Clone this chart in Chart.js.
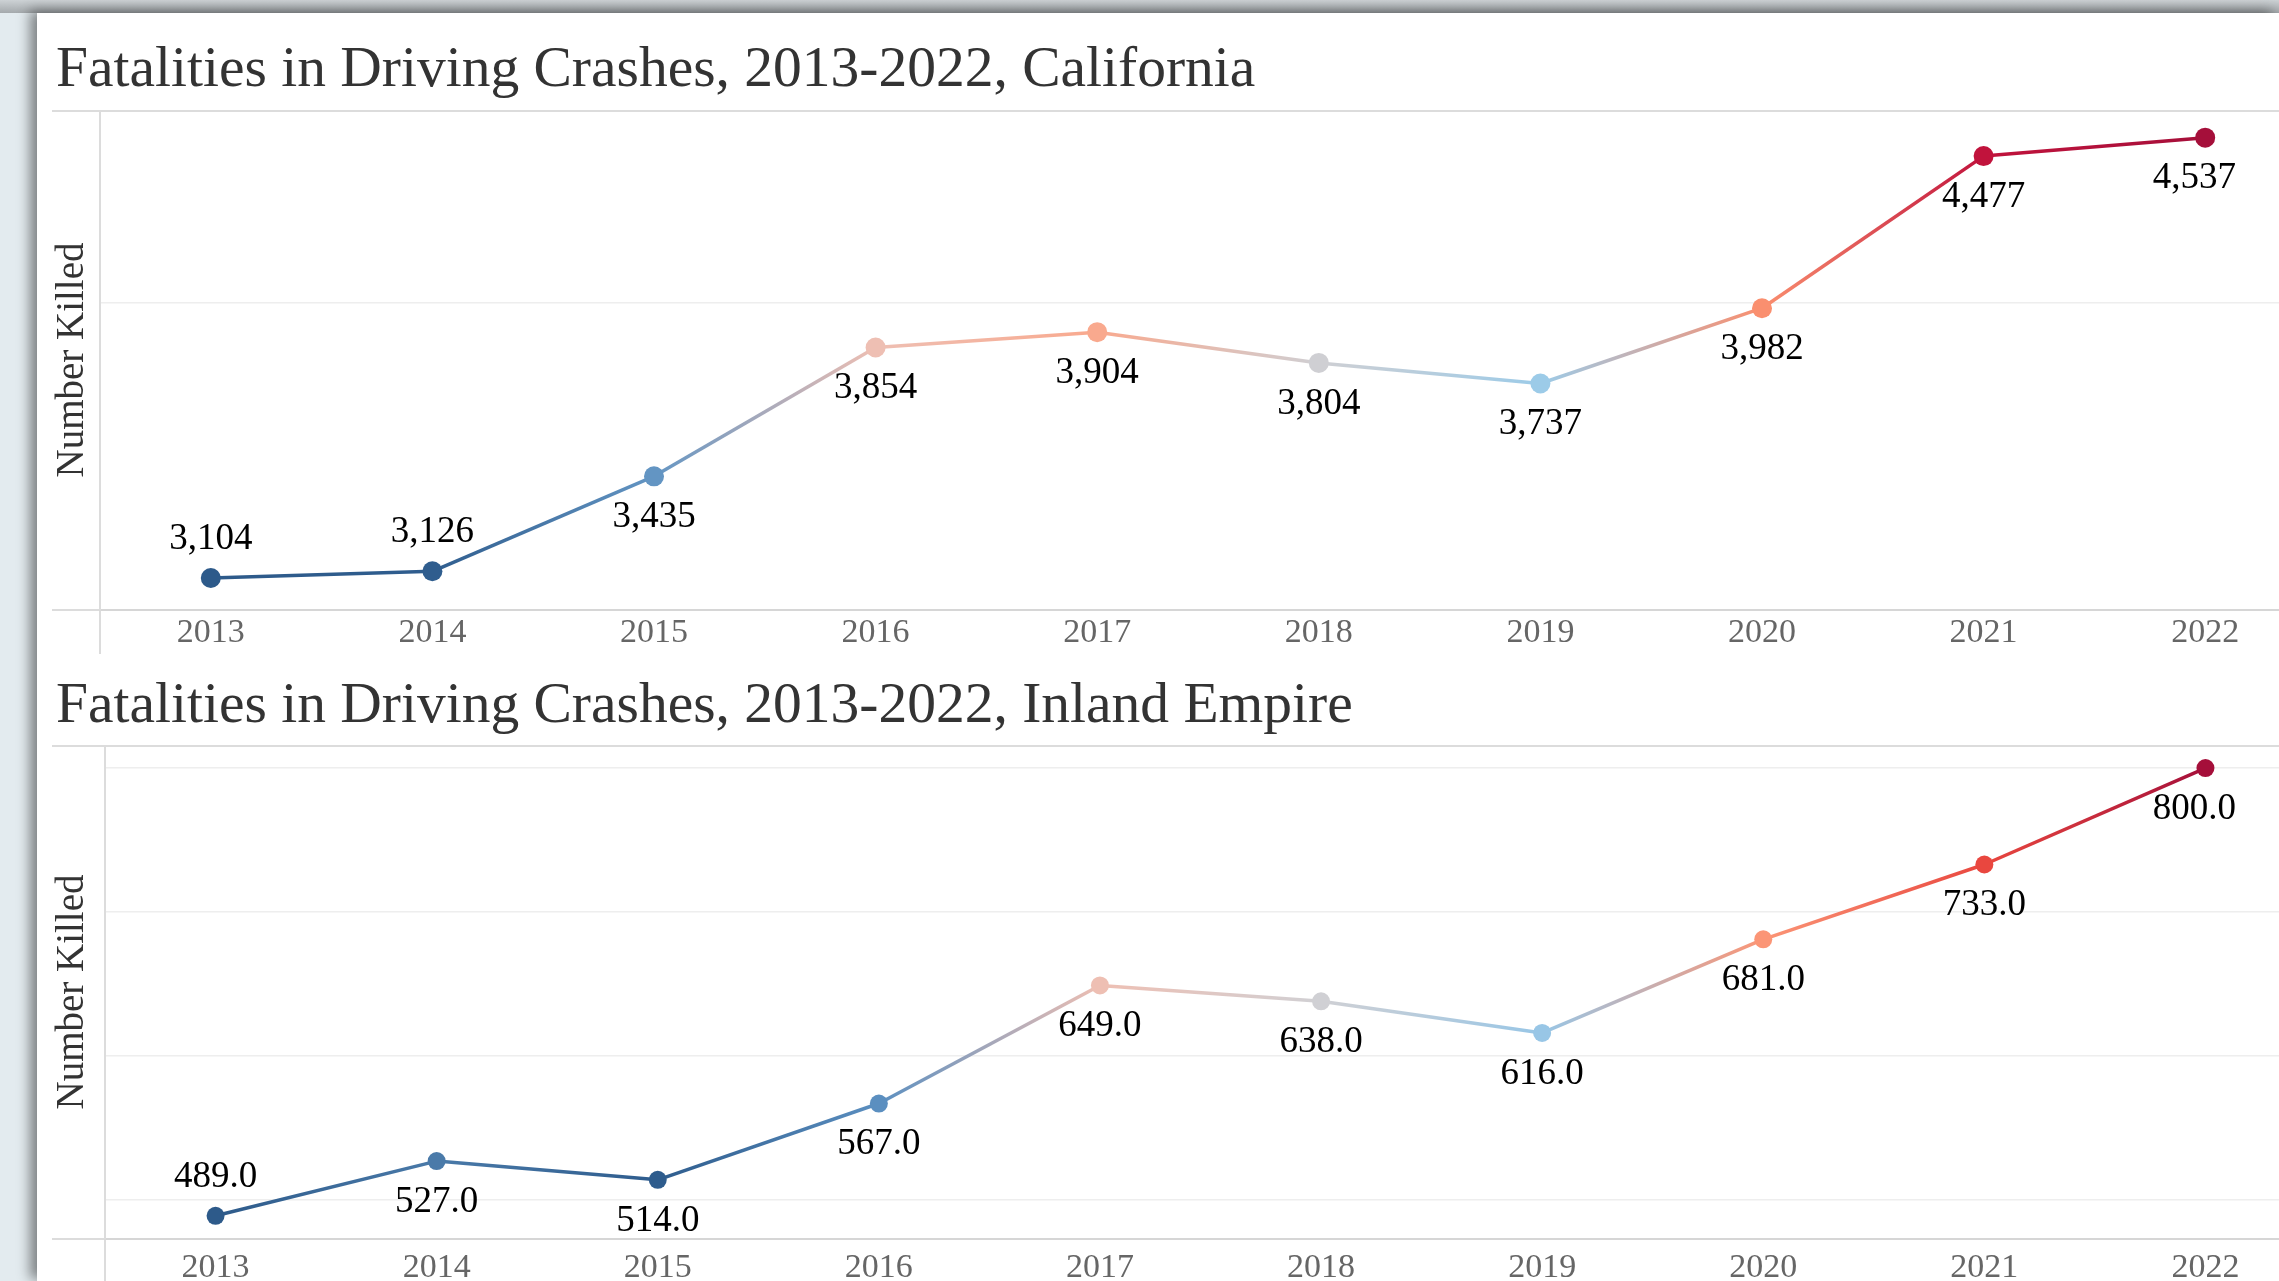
<!DOCTYPE html>
<head>
    <title>Fatalities in Driving Crashes</title>
    <meta charset="utf-8">
    <script src="https://cdn.jsdelivr.net/npm/chart.js"></script>
    <style>
        body { margin: 0; width: 2279px; height: 1281px; overflow: hidden; background: #e3ebef; position: relative; font-family: "Liberation Serif", serif; }
        .topbar { position: absolute; left: 0; top: 0; width: 2279px; height: 13px; background: linear-gradient(#cdd2d5, #a4a9ac); }
        .panel { position: absolute; left: 37px; top: 13px; width: 2242px; height: 1268px; background: #fff; box-shadow: -7px -2px 12px rgba(0,0,0,0.45); }
        .title { position: absolute; left: 56px; font-size: 57.5px; line-height: 57px; color: #333; white-space: nowrap; }
        canvas { position: absolute; left: 37px; }
    </style>
</head>
<body>
    <div class="topbar"></div>
    <div class="panel"></div>
    <div class="title" style="top: 38px;">Fatalities in Driving Crashes, 2013-2022, California</div>
    <div class="title" style="top: 674px;">Fatalities in Driving Crashes, 2013-2022, Inland Empire</div>
    <canvas id="chartCA" width="2279" height="550" style="top: 110px;"></canvas>
    <canvas id="chartIE" width="2279" height="555" style="top: 745px;"></canvas>
    <script>
        const years = ['2013', '2014', '2015', '2016', '2017', '2018', '2019', '2020', '2021', '2022'];

        // California
        const caKilled = [3104, 3126, 3435, 3854, 3904, 3804, 3737, 3982, 4477, 4537];
        const caGrid = [3000, 4000];
        const caColors = ['#2d5a8a', '#2f5d8e', '#6395c3', '#eebfb3', '#f9a98e', '#cfcfd3', '#9ccbe8', '#fa8f6f', '#c1133c', '#a50f3a'];
        const caAbove = [true, true, false, false, false, false, false, false, false, false];

        // Inland Empire
        const ieKilled = [489, 527, 514, 567, 649, 638, 616, 681, 733, 800];
        const ieGrid = [500, 600, 700, 800];
        const ieColors = ['#2d5a8a', '#4a7aa9', '#2e5c8d', '#5b8fc0', '#eebfb3', '#d0d0d4', '#98c6e6', '#fb9576', '#e9473f', '#a50f3a'];
        const ieAbove = [true, false, false, false, false, false, false, false, false, false];

        Chart.defaults.font.family = '"Liberation Serif", serif';

        // right edge of the visible pane, in canvas pixels
        const paneRight = 2199;

        function segmentColor(canvasId, colors) {
            return function(ctx) {
                const g = document.getElementById(canvasId).getContext('2d')
                    .createLinearGradient(ctx.p0.x, ctx.p0.y, ctx.p1.x, ctx.p1.y);
                g.addColorStop(0, colors[ctx.p0DataIndex]);
                g.addColorStop(1, colors[ctx.p1DataIndex]);
                return g;
            };
        }

        function labelPlugin(values, above, fmt) {
            return {
                id: 'valueLabels',
                afterDatasetsDraw(chart) {
                    const c = chart.ctx;
                    const meta = chart.getDatasetMeta(0);
                    c.save();
                    c.font = '37px "Liberation Serif"';
                    c.fillStyle = '#000';
                    c.textAlign = 'center';
                    c.textBaseline = 'middle';
                    meta.data.forEach(function(pt, i) {
                        const txt = fmt(values[i]);
                        const half = c.measureText(txt).width / 2;
                        const x = Math.min(pt.x, paneRight - half);
                        const y = above[i] ? pt.y - 39 : pt.y + 41;
                        c.fillText(txt, x, y);
                    });
                    c.restore();
                }
            };
        }

        // pane separators that run past the plot area
        function framePlugin(tail) {
            return {
                id: 'frame',
                beforeDraw(chart) {
                    const c = chart.ctx;
                    const a = chart.chartArea;
                    c.save();
                    c.strokeStyle = '#dcdcdc';
                    c.lineWidth = 2;
                    c.beginPath();
                    c.moveTo(15, a.top + 1);
                    c.lineTo(chart.width, a.top + 1);
                    c.moveTo(15, a.bottom);
                    c.lineTo(a.left, a.bottom);
                    c.moveTo(a.left, a.bottom);
                    c.lineTo(a.left, a.bottom + tail);
                    c.stroke();
                    c.restore();
                }
            };
        }

        function makeChart(canvasId, values, grid, colors, above, fmt, opt) {
            return new Chart(document.getElementById(canvasId), {
                type: 'line',
                data: {
                    labels: years,
                    datasets: [{
                        data: values,
                        borderWidth: 3.5,
                        pointRadius: opt.radius,
                        pointHoverRadius: opt.radius,
                        pointBorderWidth: 0,
                        pointBackgroundColor: colors,
                        tension: 0,
                        clip: false,
                        segment: { borderColor: segmentColor(canvasId, colors) }
                    }]
                },
                options: {
                    responsive: false,
                    animation: false,
                    layout: { autoPadding: false, padding: { left: opt.padLeft, right: 0, top: 0, bottom: opt.padBottom } },
                    plugins: { legend: { display: false }, title: { display: false }, tooltip: { enabled: false } },
                    scales: {
                        x: {
                            type: 'category',
                            offset: true,
                            grid: { display: false, drawTicks: false },
                            border: { display: true, color: '#d6d6d6', width: 2 },
                            ticks: {
                                color: '#666',
                                font: { size: 34, lineHeight: 1 },
                                padding: opt.tickPad,
                                maxRotation: 0,
                                autoSkip: false
                            }
                        },
                        y: {
                            min: opt.yMin,
                            max: opt.yMax,
                            afterBuildTicks: function(scale) { scale.ticks = grid.map(function(v) { return {value: v}; }); },
                            grid: { color: '#eeeeee', lineWidth: 1.5, drawTicks: false },
                            border: { display: true, color: '#dcdcdc', width: 2 },
                            ticks: { display: false },
                            title: {
                                display: true,
                                text: 'Number Killed',
                                color: '#333',
                                font: { size: 39, lineHeight: 1 },
                                padding: opt.titlePad
                            }
                        }
                    }
                },
                plugins: [framePlugin(opt.tail), labelPlugin(values, above, fmt)]
            });
        }

        makeChart('chartCA', caKilled, caGrid, caColors, caAbove,
            function(v) { return v.toLocaleString('en-US'); },
            { radius: 10, padLeft: 9, padBottom: 4, titlePad: 7.5, tickPad: 6, tail: 44, yMin: 3000, yMax: 4627 });

        makeChart('chartIE', ieKilled, ieGrid, ieColors, ieAbove,
            function(v) { return v.toFixed(1); },
            { radius: 9, padLeft: 4, padBottom: 3, titlePad: 12.5, tickPad: 12, tail: 60, yMin: 472.9, yMax: 816 });
    </script>
</body>
</html>
